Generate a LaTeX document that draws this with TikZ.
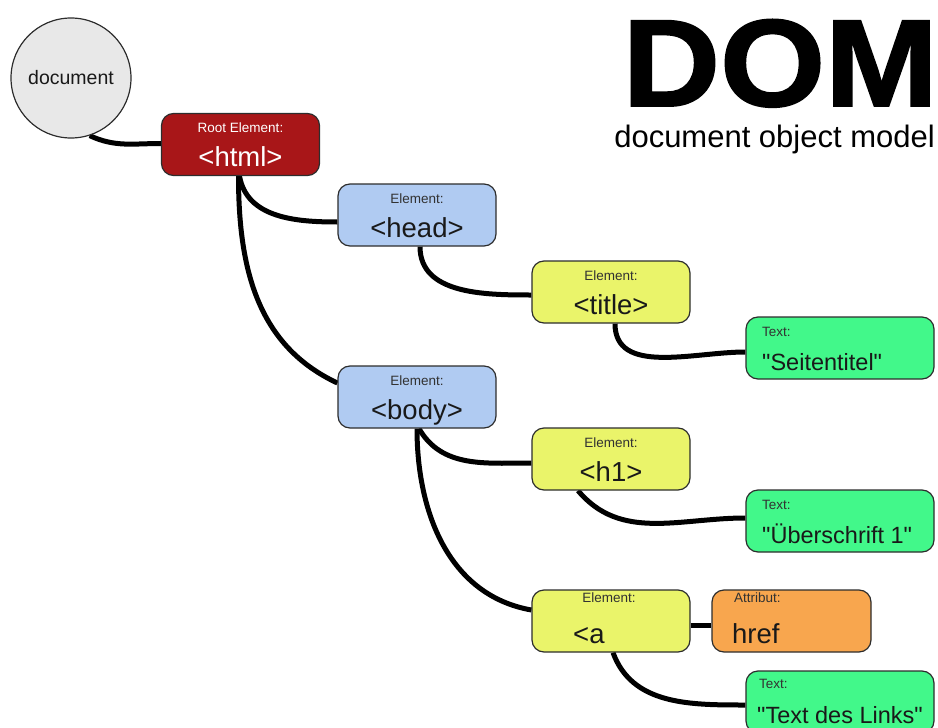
\documentclass[tikz,border=0pt]{standalone}
\usepackage{fontspec}
\setmainfont{Liberation Sans}
\newfontfamily\domfont{Liberation Sans}[FakeBold=1.5]
\newfontfamily\qfont{Liberation Sans}
\usetikzlibrary{backgrounds}
\definecolor{cred}{RGB}{168,22,24}
\definecolor{cblue}{RGB}{176,203,242}
\definecolor{cyellow}{RGB}{234,244,106}
\definecolor{cgreen}{RGB}{66,248,138}
\definecolor{corange}{RGB}{248,166,78}
\definecolor{cgray}{RGB}{232,232,232}
\definecolor{boxline}{RGB}{45,45,45}
\definecolor{labeltext}{RGB}{50,50,50}
\definecolor{tagtext}{RGB}{25,25,25}
\newcommand{\qq}{{\qfont\symbol{34}}}
\begin{document}
\begin{tikzpicture}[x=1pt,y=1pt,
  box/.style={draw=boxline, line width=1.2pt, rounded corners=12pt, minimum width=158pt, minimum height=62pt, inner sep=0pt},
  wbox/.style={box, minimum width=188pt},
  lbl/.style={font=\fontsize{13.5}{15}\selectfont, text=labeltext, anchor=base, inner sep=0pt},
  big/.style={font=\fontsize{27.5}{30}\selectfont, text=tagtext, anchor=base, inner sep=0pt},
  gbig/.style={font=\fontsize{23.5}{26}\selectfont, text=tagtext, anchor=base west, inner sep=0pt},
  conn/.style={line width=5pt, black}]
\useasboundingbox (0,0) rectangle (938,-728);

% title
\node[anchor=base east, inner sep=0pt, font=\fontsize{124}{128}\domfont\bfseries] (dom) at (938,-106) {\scalebox{1.09}[1]{DOM}};
\node[anchor=base east, inner sep=0pt, font=\fontsize{31}{34}\selectfont] (domsub) at (935,-147) {document object model};

% document circle
\node[circle, draw=boxline, line width=1.2pt, fill=cgray, minimum size=120pt, inner sep=0pt, font=\fontsize{19.5}{22}\selectfont, text=tagtext] (doc) at (71,-78) {document};

% boxes
\node[box, fill=cred] (html) at (240.5,-144.5) {};
\node[lbl, text=white] (htmllbl) at (240.5,-132) {Root Element:};
\node[big, text=white] (htmltag) at (240.5,-166) {<html>};

\node[box, fill=cblue] (head) at (417,-215) {};
\node[lbl] (headlbl) at (417,-203) {Element:};
\node[big] (headtag) at (417,-237) {<head>};

\node[box, fill=cyellow] (title) at (611,-292) {};
\node[lbl] (titlelbl) at (611,-280) {Element:};
\node[big] (titletag) at (611,-314) {<title>};

\node[wbox, fill=cgreen] (seit) at (840,-348) {};
\node[lbl, anchor=base west] (seitlbl) at (762,-336) {Text:};
\node[gbig] (seittxt) at (762,-370) {\qq Seitentitel\qq};

\node[box, fill=cblue] (body) at (417,-397) {};
\node[lbl] (bodylbl) at (417,-385) {Element:};
\node[big] (bodytag) at (417,-419) {<body>};

\node[box, fill=cyellow] (h1) at (611,-459) {};
\node[lbl] (h1lbl) at (611,-447) {Element:};
\node[big] (h1tag) at (611,-481) {<h1>};

\node[wbox, fill=cgreen] (ueber) at (840,-521) {};
\node[lbl, anchor=base west] (ueberlbl) at (762,-509) {Text:};
\node[gbig] (uebertxt) at (762,-543) {\qq Überschrift 1\qq};

\node[box, fill=cyellow] (a) at (611,-621) {};
\node[lbl] (albl) at (609,-602) {Element:};
\node[big, anchor=base west] (atag) at (573,-643) {<a};

\node[box, minimum width=159pt, fill=corange] (href) at (791.5,-621) {};
\node[lbl, anchor=base west] (hreflbl) at (734,-602) {Attribut:};
\node[big, anchor=base west] (hreftag) at (732,-643) {href};

\node[wbox, fill=cgreen] (links) at (840,-702) {};
\node[lbl, anchor=base west] (linkslbl) at (759,-688) {Text:};
\node[gbig] (linkstxt) at (757,-723) {\qq Text des Links\qq};

% connectors
\begin{scope}[on background layer]
\draw[conn] (doc.-72) to[out=-25,in=180] ([yshift=1pt]html.west);
\draw[conn] ([xshift=-1pt]html.south) to[out=-80,in=180] ([yshift=-7pt]head.west);
\draw[conn] ([xshift=-2pt]html.south) to[out=-90,in=155] ([yshift=14pt]body.west);
\draw[conn] ([xshift=3pt]head.south) to[out=-90,in=180] ([yshift=-3pt]title.west);
\draw[conn] ([xshift=4pt]title.south) to[out=-90,in=180] ([yshift=-4pt]seit.west);
\draw[conn] ([xshift=2pt]body.south) to[out=-60,in=180] ([yshift=-4pt]h1.west);
\draw[conn] ([xshift=0pt]body.south) to[out=-90,in=170] ([yshift=11pt]a.west);
\draw[conn] ([xshift=-33pt]h1.south) to[out=-50,in=180] ([yshift=3pt]ueber.west);
\draw[conn] ([yshift=-4pt]a.east) -- ([yshift=-4pt]href.west);
\draw[conn] ([xshift=2pt]a.south) to[out=-70,in=180] ([yshift=-3pt]links.west);
\end{scope}
\end{tikzpicture}
\end{document}
